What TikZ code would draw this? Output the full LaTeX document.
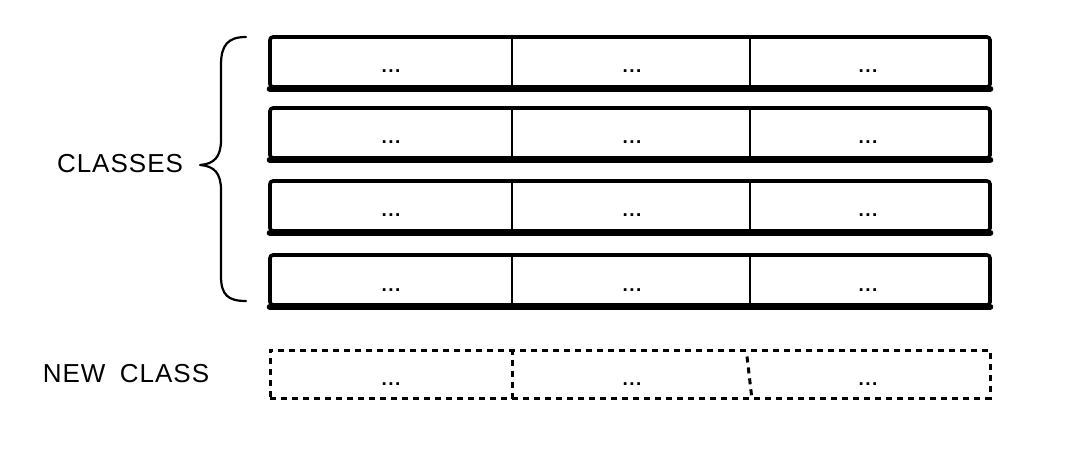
\documentclass[tikz,border=0pt]{standalone}
\usepackage{fontspec}
\setmainfont{Liberation Sans}
\newcommand{\mydots}{.\kern1.5pt.\kern1.5pt.}
\begin{document}
\begin{tikzpicture}[x=1pt,y=-1pt,
  rowbox/.style={draw, line width=3.6pt, rounded corners=3pt, minimum width=720pt, minimum height=50pt, inner sep=0pt},
  bottomline/.style={line width=6pt, line cap=round, shorten <=1.5pt, shorten >=1.5pt},
  divider/.style={line width=2.4pt},
  newbox/.style={draw, line width=3pt, dash pattern=on 6pt off 5pt, minimum width=720pt, minimum height=48pt, inner sep=0pt},
  newdivider/.style={line width=3pt, dash pattern=on 6pt off 5pt},
  dots/.style={anchor=base, inner sep=0pt, font=\bfseries\fontsize{19}{22}\selectfont},
  lbl/.style={inner sep=0pt, font=\fontsize{26}{30}\selectfont},
  bracestyle/.style={line width=2.2pt, line cap=round, line join=round}
]
\useasboundingbox (0,0) rectangle (1070,454);

\foreach \i/\t in {1/37,2/108,3/181,4/255} {
  \node[rowbox] (r\i) at (630,\t+25) {};
  \draw[bottomline] (r\i.south west) -- (r\i.south east);
  \draw[divider] ([xshift=-118pt]r\i.north) -- ([xshift=-118pt]r\i.south);
  \draw[divider] ([xshift=120pt]r\i.north) -- ([xshift=120pt]r\i.south);
  \node[dots] (d\i a) at (391,\t+36) {\mydots};
  \node[dots] (d\i b) at (632,\t+36) {\mydots};
  \node[dots] (d\i c) at (868,\t+36) {\mydots};
}

% new class row
\node[newbox] (n) at (630,374) {};
\draw[newdivider] ([xshift=-118pt]n.north) -- ([xshift=-118pt]n.south);
\draw[newdivider] ([xshift=117pt,yshift=-8pt]n.north) -- ([xshift=122pt]n.south);
\node[dots] (na) at (391,385) {\mydots};
\node[dots] (nb) at (632,385) {\mydots};
\node[dots] (nc) at (868,385) {\mydots};

% brace
\coordinate (btop) at (246,37);
\coordinate (btip) at (200,165);
\coordinate (bbot) at (246,301);
\draw[bracestyle] (btop) .. controls (228,37) and (221,45) .. (221,65) -- (221,140)
  .. controls (221,157) and (214,164) .. (btip)
  .. controls (214,166) and (221,173) .. (221,190) -- (221,276)
  .. controls (221,295) and (228,301) .. (bbot);

\node[lbl] (classes) at (120,164) {C\kern1pt L\kern1pt A\kern1pt S\kern1pt S\kern1pt E\kern1pt S};
\node[lbl] (newclass) at (126,374) {N\kern1pt E\kern1pt W\ \ C\kern1pt L\kern1pt A\kern1pt S\kern1pt S};
\end{tikzpicture}
\end{document}
